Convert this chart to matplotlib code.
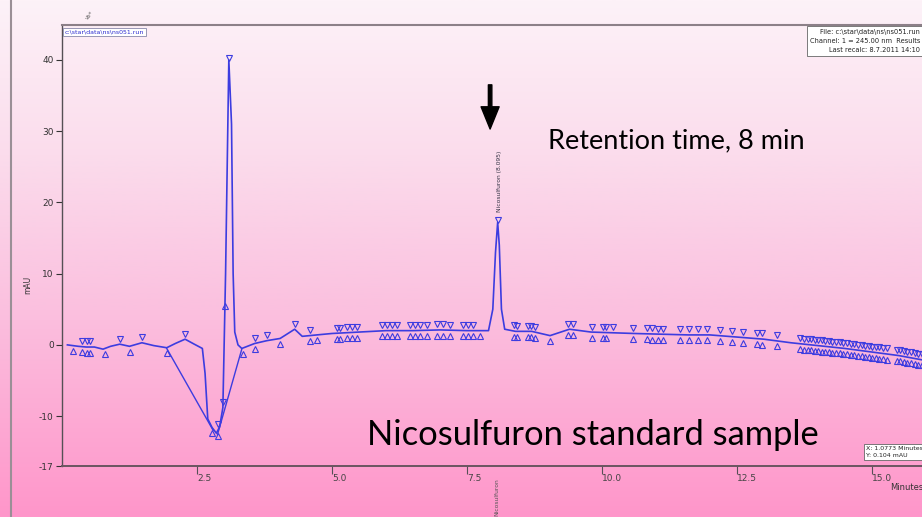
import numpy as np
import matplotlib
matplotlib.use("Agg")
import matplotlib.pyplot as plt
from matplotlib.colors import LinearSegmentedColormap

# ---- data ----
trace_t = [0.10, 0.30, 0.45, 0.60, 0.76, 0.90, 1.07, 1.25, 1.48, 1.70, 1.94, 2.10, 2.28, 2.45,
           2.60, 2.65, 2.70, 2.78, 2.86, 2.92, 2.98, 3.03, 3.09, 3.14, 3.17, 3.20, 3.26, 3.33,
           3.40, 3.57, 3.80, 4.04, 4.31, 4.45, 4.72, 5.0, 5.5, 6.0, 6.5, 7.0, 7.5, 7.90, 7.98,
           8.03, 8.07, 8.10, 8.14, 8.20, 8.40, 8.70, 9.04, 9.40, 9.80, 10.2, 10.6, 11.1, 11.6,
           12.0, 12.5, 13.0, 13.5, 14.0, 14.5, 15.0, 15.5, 15.93]
trace_y = [0.0, -0.2, -0.3, -0.3, -0.6, -0.2, 0.1, -0.2, 0.3, -0.1, -0.4, 0.2, 0.8, 0.1,
           -0.5, -4.0, -10.4, -11.6, -12.4, -11.5, -8.8, 10.0, 40.0, 31.0, 10.0, 1.8, 0.0, -0.5,
           -0.3, 0.2, 0.6, 0.9, 2.2, 1.2, 1.4, 1.6, 1.8, 2.0, 2.0, 2.1, 2.0, 2.0, 5.0,
           13.0, 17.2, 14.0, 5.0, 2.2, 1.9, 1.9, 1.3, 2.2, 1.8, 1.7, 1.6, 1.5, 1.4,
           1.4, 1.1, 0.8, 0.3, -0.1, -0.5, -1.0, -1.5, -2.1]

# integration baselines under the negative dip
base1_t = [1.94, 2.80]
base1_y = [-0.5, -12.0]
base2_t = [2.88, 3.33]
base2_y = [-12.6, -0.6]

cluster_t = [0.37, 0.46, 0.52, 2.89, 3.57, 4.59, 5.09, 5.15, 5.28, 5.37, 5.46, 5.93, 6.02,
             6.11, 6.20, 6.44, 6.54, 6.63, 6.76, 6.94, 7.06, 7.19, 7.43, 7.52, 7.61, 8.37,
             8.43, 8.63, 8.69, 8.76, 9.37, 9.46, 9.81, 10.02, 10.07, 10.57, 10.83, 10.93,
             11.04, 11.13, 11.44, 11.61, 11.78, 11.94, 12.19, 12.41, 12.61, 12.87, 12.96,
             13.24, 13.67, 13.74, 13.81, 13.87, 13.94, 14.01, 14.07, 14.14, 14.21, 14.27,
             14.34, 14.41, 14.47, 14.54, 14.61, 14.67, 14.74, 14.81, 14.87, 14.94, 15.01,
             15.07, 15.14, 15.21, 15.28, 15.46, 15.53, 15.60, 15.66, 15.73, 15.80, 15.86, 15.93]
top_only_t = [1.07, 1.48, 2.28, 2.98, 3.80, 4.31, 10.20]
bottom_only_t = [0.20, 0.80, 1.26, 1.94, 2.78, 3.02, 3.35, 4.04, 4.72, 7.74, 9.04]
peak_tops_t = [3.09, 8.07]

yticks = [40, 30, 20, 10, 0, -10, -17]
xticks = [2.5, 5.0, 7.5, 10.0, 12.5, 15.0]
xtick_labels = ["2.5", "5.0", "7.5", "10.0", "12.5", "15.0"]

peak_label = "Nicosulfuron (8.095)"
peak_rt = 8.095

# ---- figure ----
W, H = 922, 517
fig = plt.figure(figsize=(W / 100, H / 100), dpi=100)

# background gradient
bg = fig.add_axes([0, 0, 1, 1], zorder=-10)
cmap = LinearSegmentedColormap.from_list(
    "pinkgrad", [(0.0, "#fdf2f8"), (0.3, "#fbdcec"), (0.6, "#fbc0df"), (1.0, "#ff96ca")])
grad = np.linspace(0, 1, 256).reshape(-1, 1)
bg.imshow(grad, aspect="auto", cmap=cmap, extent=[0, 1, 0, 1], origin="upper")
bg.set_axis_off()

# window border line on the left
fig.add_artist(plt.Line2D([10.5 / W, 10.5 / W], [0, 1], color="#9a8f96", lw=1.5))

ax = fig.add_axes([62 / W, (H - 466) / H, (W - 62) / W, (466 - 25) / H])
ax.set_facecolor("none")
ax.set_xlim(0, 15.93)
ax.set_ylim(-17, 44.9)

blue = "#3c3ce0"
ax.plot(trace_t, trace_y, color=blue, lw=1.2, zorder=3)
ax.plot(base1_t, base1_y, color=blue, lw=1.0, zorder=3)
ax.plot(base2_t, base2_y, color=blue, lw=1.0, zorder=3)

off = 0.78
mk = dict(linestyle="none", markerfacecolor="none", markeredgecolor=blue,
          markersize=4.5, markeredgewidth=0.8, zorder=4)
ct = np.array(cluster_t)
cy = np.interp(ct, trace_t, trace_y)
ax.plot(ct, cy + off, marker="v", **mk)
ax.plot(ct, cy - off, marker="^", **mk)
tt = np.array(top_only_t)
ax.plot(tt, np.interp(tt, trace_t, trace_y) + off, marker="v", **mk)
bt = np.array(bottom_only_t)
ax.plot(bt, np.interp(bt, trace_t, trace_y) - off, marker="^", **mk)
pt = np.array(peak_tops_t)
ax.plot(pt, np.interp(pt, trace_t, trace_y) + 0.3, marker="v", **mk)

# peak label
ax.text(peak_rt, 18.6, peak_label, rotation=90, ha="center", va="bottom",
        fontsize=4.3, color="#333344", family="DejaVu Sans")

# spines and ticks
ax.spines["right"].set_visible(False)
ax.spines["top"].set_color("#8c8088")
ax.spines["top"].set_linewidth(1.5)
ax.spines["left"].set_color("#555055")
ax.spines["bottom"].set_color("#6a5560")
ax.spines["left"].set_linewidth(1.0)
ax.spines["bottom"].set_linewidth(1.4)

ax.set_yticks(yticks)
ax.set_yticklabels([str(v) for v in yticks])
ax.set_xticks(xticks)
ax.set_xticklabels(xtick_labels)
ax.tick_params(axis="y", length=4, width=0.8, colors="#333333", labelsize=6.5, pad=2)
ax.tick_params(axis="x", length=6, width=0.8, colors="#555055", labelsize=6.5, pad=0)
for lbl in ax.get_xticklabels():
    lbl.set_horizontalalignment("left")
    lbl.set_color("#444444")

fig.text(28 / W, 1 - 285 / H, "mAU", rotation=90, ha="center", va="center",
         fontsize=5.5, color="#333333")
fig.text(890 / W, 1 - 487 / H, "Minutes", ha="left", va="center", fontsize=6,
         color="#333333")

# info boxes
fig.text(65 / W, 1 - 32 / H, r"c:\star\data\ns\ns051.run", ha="left", va="center",
         fontsize=4.5, color="#2b2bd0",
         bbox=dict(boxstyle="square,pad=0.3", fc="white", ec="#8888aa", lw=0.6))
fig.text(920 / W, 1 - 29 / H,
         "File: c:\\star\\data\\ns\\ns051.run\nChannel: 1 = 245.00 nm  Results\nLast recalc: 8.7.2011 14:10",
         ha="right", va="top", fontsize=4.8, color="#222222", multialignment="right",
         linespacing=1.6,
         bbox=dict(boxstyle="square,pad=0.4", fc="white", ec="#666666", lw=0.6))
fig.text(866 / W, 1 - 446 / H, "X: 1.0773 Minutes\nY: 0.104 mAU", ha="left", va="top",
         fontsize=4.5, color="#222222", linespacing=1.5,
         bbox=dict(boxstyle="square,pad=0.35", fc="white", ec="#666666", lw=0.6))

fig.text(90 / W, 1 - 15 / H, "vb*", rotation=50, ha="center", va="center",
         fontsize=4, color="#555555")
fig.text(497 / W, 1 - 478 / H, "Nicosulfuron", rotation=90, ha="center", va="top",
         fontsize=4.3, color="#555555")

# annotations
ax.annotate("", xy=(7.93, 30.3), xytext=(7.93, 36.5),
            arrowprops=dict(facecolor="black", edgecolor="black", width=2.5,
                            headwidth=13, headlength=16, shrink=0))
ax.text(9.0, 28.7, "Retention time, 8 min", ha="left", va="center", fontsize=19.5,
        family="Lato", color="black")
ax.text(5.65, -12.6, "Nicosulfuron standard sample", ha="left", va="center",
        fontsize=24.8, family="Lato", color="black")

fig.savefig("out.png", dpi=100)
